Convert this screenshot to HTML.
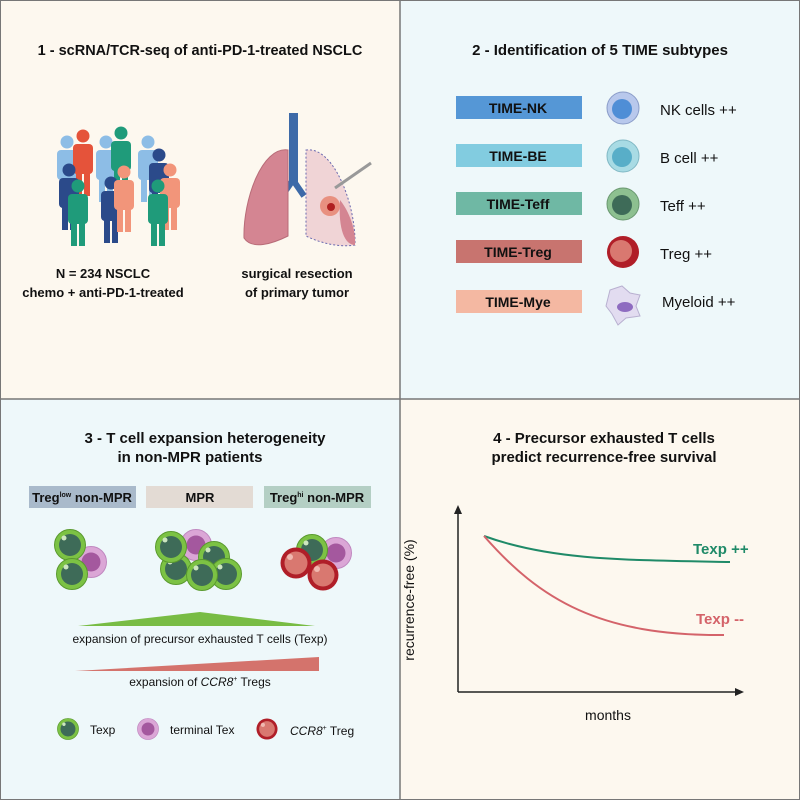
<!DOCTYPE html>
<html><head><meta charset="utf-8"><style>
body{margin:0;width:800px;height:800px;overflow:hidden;font-family:"Liberation Sans",sans-serif;}
svg text{font-family:"Liberation Sans",sans-serif;}
</style></head><body>
<svg width="800" height="800" viewBox="0 0 800 800" xmlns="http://www.w3.org/2000/svg">
<defs>
<g id="gcell"><circle r="15.5" fill="#7cc244" stroke="#5a9a2e" stroke-width="1"/><circle r="11" fill="#3e6b58"/><circle cx="-6" cy="-7" r="2.5" fill="#cde6c0"/></g>
<g id="pcell"><circle r="15.5" fill="#dba6d6" stroke="#c088c0" stroke-width="1"/><circle r="9.5" fill="#a4589e"/></g>
<g id="rcell"><circle r="15.5" fill="#b01e28"/><circle r="11.5" fill="#d97870"/><circle cx="-6" cy="-6" r="3" fill="#f0b8b0"/></g>
<g id="person"><circle cx="0" cy="0" r="6.5"/><rect x="-10" y="8" width="20" height="30" rx="4"/><rect x="-7" y="36" width="6" height="24"/><rect x="1" y="36" width="6" height="24"/></g>
</defs>
<rect x="0" y="0" width="400" height="399" fill="#fdf8ef"/>
<rect x="400" y="0" width="400" height="399" fill="#eef8fa"/>
<rect x="0" y="399" width="400" height="401" fill="#eef8fa"/>
<rect x="400" y="399" width="400" height="401" fill="#fdf8ef"/>
<line x1="400" y1="0" x2="400" y2="800" stroke="#777" stroke-width="1.5"/>
<line x1="0" y1="399" x2="800" y2="399" stroke="#777" stroke-width="1.5"/>
<rect x="0.5" y="0.5" width="799" height="799" fill="none" stroke="#777"/>

<!-- Q1 -->
<text x="200" y="55" font-size="14.5" font-weight="bold" text-anchor="middle" fill="#111">1 - scRNA/TCR-seq of anti-PD-1-treated NSCLC</text>
<g fill="#8dbde6"><use href="#person" x="67" y="142"/><use href="#person" x="106" y="142"/><use href="#person" x="148" y="142"/></g>
<use href="#person" x="83" y="136" fill="#e5533a"/>
<use href="#person" x="121" y="133" fill="#1f9b7a"/>
<g fill="#2b4a8a"><use href="#person" x="69" y="170"/><use href="#person" x="159" y="155"/><use href="#person" x="111" y="183"/></g>
<g fill="#f2957a"><use href="#person" x="124" y="172"/><use href="#person" x="170" y="170"/></g>
<g fill="#1f9b7a"><use href="#person" x="78" y="186"/><use href="#person" x="158" y="186"/></g>
<!-- lungs -->
<rect x="289" y="113" width="9" height="70" fill="#3d6aa8"/>
<path d="M293 180 L282 196 M293 180 L304 196" stroke="#3d6aa8" stroke-width="6" fill="none"/>
<path d="M288 150 C262 146 243 200 244 238 C252 250 272 244 288 236 Z" fill="#d48592" stroke="#b86c78"/>
<path d="M306 150 C334 146 356 205 355 245 C338 248 318 242 306 236 Z" fill="#f0d4d6" stroke="#6a6ab0" stroke-dasharray="2 2"/>
<path d="M340 200 C352 215 356 235 355 245 C345 245 338 230 340 200 Z" fill="#d48592"/>
<circle cx="330" cy="206" r="10" fill="#e89080"/><circle cx="331" cy="207" r="4" fill="#b02020"/>
<line x1="335" y1="188" x2="371" y2="163" stroke="#999" stroke-width="3"/>
<g font-size="13" font-weight="bold" fill="#111" text-anchor="middle">
<text x="103" y="278">N = 234 NSCLC</text><text x="103" y="297">chemo + anti-PD-1-treated</text>
<text x="297" y="278">surgical resection</text><text x="297" y="297">of primary tumor</text></g>

<!-- Q2 -->
<text x="600" y="55" font-size="15" font-weight="bold" text-anchor="middle" fill="#111">2 - Identification of 5 TIME subtypes</text>
<g font-size="14" font-weight="bold" text-anchor="middle" fill="#111">
<rect x="456" y="96" width="126" height="23" fill="#5597d6"/><text x="518" y="113">TIME-NK</text>
<rect x="456" y="144" width="126" height="23" fill="#82cce0"/><text x="518" y="161">TIME-BE</text>
<rect x="456" y="192" width="126" height="23" fill="#6fb8a4"/><text x="518" y="209">TIME-Teff</text>
<rect x="456" y="240" width="126" height="23" fill="#c8746f"/><text x="518" y="257">TIME-Treg</text>
<rect x="456" y="290" width="126" height="23" fill="#f4b8a2"/><text x="518" y="307">TIME-Mye</text></g>
<circle cx="623" cy="108" r="16" fill="#b8c8ec" stroke="#8a9cc8"/><circle cx="622" cy="109" r="10" fill="#4f8ed6"/>
<circle cx="623" cy="156" r="16" fill="#a8dbe4" stroke="#80b8c4"/><circle cx="622" cy="157" r="10" fill="#58aec8"/>
<circle cx="623" cy="204" r="16" fill="#8dc090" stroke="#6a9870"/><circle cx="622" cy="205" r="10" fill="#3e6b58"/>
<circle cx="623" cy="252" r="16" fill="#b01e28"/><circle cx="621" cy="251" r="11" fill="#d97870"/>
<path d="M610 290 L622 286 L630 293 L640 295 L636 306 L640 316 L626 318 L618 325 L612 314 L606 306 Z" fill="#e2dcf0" stroke="#b8b0d0"/>
<ellipse cx="625" cy="307" rx="8" ry="5" fill="#8e6cc0"/>
<g font-size="15" fill="#111"><text x="660" y="115">NK cells ++</text><text x="660" y="163">B cell ++</text><text x="660" y="211">Teff ++</text><text x="660" y="259">Treg ++</text><text x="662" y="307">Myeloid ++</text></g>

<!-- Q3 -->
<g font-size="15" font-weight="bold" text-anchor="middle" fill="#111"><text x="205" y="443">3 - T cell expansion heterogeneity</text><text x="190" y="462">in non-MPR patients</text></g>
<rect x="29" y="486" width="107" height="22" fill="#a9bacb"/>
<rect x="146" y="486" width="107" height="22" fill="#e3dbd4"/>
<rect x="264" y="486" width="107" height="22" fill="#b4cfc4"/>
<g font-size="13" font-weight="bold" fill="#111" text-anchor="middle">
<text x="82" y="502">Treg<tspan font-size="7" dy="-5">low</tspan><tspan dy="5"> non-MPR</tspan></text>
<text x="200" y="502">MPR</text>
<text x="317" y="502">Treg<tspan font-size="7" dy="-5">hi</tspan><tspan dy="5"> non-MPR</tspan></text></g>
<use href="#pcell" x="91" y="562"/><use href="#gcell" x="70" y="545"/><use href="#gcell" x="72" y="574"/>
<use href="#pcell" x="196" y="545"/><use href="#gcell" x="176" y="569"/><use href="#gcell" x="214" y="557"/><use href="#gcell" x="226" y="574"/><use href="#gcell" x="171" y="547"/><use href="#gcell" x="202" y="575"/>
<use href="#pcell" x="336" y="553"/><use href="#gcell" x="312" y="550"/><use href="#rcell" x="296" y="563"/><use href="#rcell" x="323" y="575"/>
<polygon points="78,626 200,612 315,626" fill="#78bc44"/>
<text x="200" y="643" font-size="12" text-anchor="middle" fill="#111">expansion of precursor exhausted T cells (Texp)</text>
<polygon points="75,671 319,657 319,671" fill="#d4736c"/>
<text x="200" y="686" font-size="12" text-anchor="middle" fill="#111">expansion of <tspan font-style="italic">CCR8</tspan><tspan font-size="7" dy="-5">+</tspan><tspan dy="5"> Tregs</tspan></text>
<g transform="translate(68,729) scale(0.68)"><use href="#gcell"/></g>
<g transform="translate(148,729) scale(0.68)"><use href="#pcell"/></g>
<g transform="translate(267,729) scale(0.68)"><use href="#rcell"/></g>
<g font-size="12" fill="#111"><text x="90" y="734">Texp</text><text x="170" y="734">terminal Tex</text><text x="290" y="735"><tspan font-style="italic">CCR8</tspan><tspan font-size="7" dy="-5">+</tspan><tspan dy="5"> Treg</tspan></text></g>

<!-- Q4 -->
<g font-size="15" font-weight="bold" text-anchor="middle" fill="#111"><text x="604" y="443">4 - Precursor exhausted T cells</text><text x="604" y="462">predict recurrence-free survival</text></g>
<line x1="458" y1="692" x2="458" y2="512" stroke="#222" stroke-width="1.5"/>
<polygon points="458,505 454,514 462,514" fill="#222"/>
<line x1="458" y1="692" x2="737" y2="692" stroke="#222" stroke-width="1.5"/>
<polygon points="744,692 735,688 735,696" fill="#222"/>
<path d="M484 536 C550 560 620 560 730 562" stroke="#1f8a68" stroke-width="2" fill="none"/>
<path d="M484 536 C540 600 600 636 724 635" stroke="#d4636a" stroke-width="2" fill="none"/>
<text x="693" y="554" font-size="15" font-weight="bold" fill="#1f8a68">Texp ++</text>
<text x="696" y="624" font-size="15" font-weight="bold" fill="#d4636a">Texp --</text>
<text x="608" y="720" font-size="14" text-anchor="middle" fill="#111">months</text>
<text transform="translate(414,600) rotate(-90)" font-size="14" text-anchor="middle" fill="#111">recurrence-free (%)</text>
</svg>
</body></html>
